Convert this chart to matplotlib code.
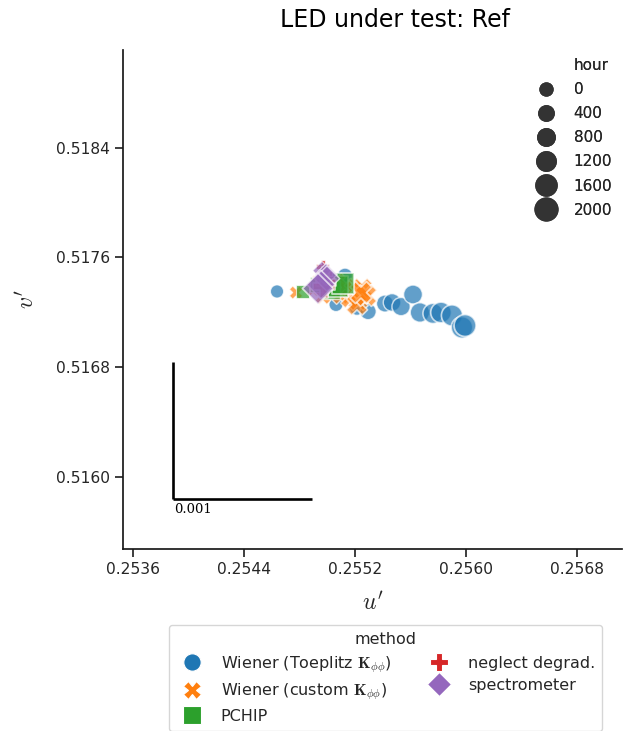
import matplotlib
matplotlib.use("Agg")
import matplotlib.pyplot as plt
from matplotlib.lines import Line2D
import numpy as np

plt.rcParams["mathtext.fontset"] = "cm"
plt.rcParams["font.family"] = ["DejaVu Sans"]

# chromaticity trajectories (u', v') over operating hours, per estimation method
toeplitz_hour = [0, 150, 300, 450, 600, 750, 900, 1050, 1200, 1350, 1500, 1650, 1800, 1900, 2000]
toeplitz_u = [0.254638, 0.255063, 0.255128, 0.255214, 0.255294, 0.255416, 0.255467, 0.255532,
              0.255618, 0.255668, 0.255762, 0.255820, 0.255899, 0.255971, 0.255993]
toeplitz_v = [0.517351, 0.517256, 0.517467, 0.517234, 0.517205, 0.517263, 0.517271, 0.517241,
              0.517329, 0.517198, 0.517191, 0.517198, 0.517176, 0.517089, 0.517103]

custom_hour = [0, 150, 300, 450, 600, 750, 900, 1050, 1200, 1350, 1500, 1650, 1800, 1900, 2000]
custom_u = [0.254775, 0.254897, 0.254933, 0.254969, 0.255027, 0.255070, 0.255099, 0.255135,
            0.255164, 0.255193, 0.255222, 0.255250, 0.255214, 0.255279, 0.255243]
custom_v = [0.517343, 0.517365, 0.517416, 0.517314, 0.517358, 0.517423, 0.517321, 0.517380,
            0.517300, 0.517358, 0.517285, 0.517372, 0.517256, 0.517321, 0.517343]

pchip_hour = [0, 500, 1000, 1500, 2000]
pchip_u = [0.254825, 0.254933, 0.255027, 0.255077, 0.255113]
pchip_v = [0.517351, 0.517401, 0.517365, 0.517387, 0.517409]

neglect_hour = [0, 500, 1000, 1500, 2000]
neglect_u = [0.254969, 0.254977, 0.254984, 0.254991, 0.254977]
neglect_v = [0.517532, 0.517481, 0.517445, 0.517416, 0.517387]

spectro_hour = [0, 500, 1000, 1500, 2000]
spectro_u = [0.254962, 0.254991, 0.254998, 0.254955, 0.254933]
spectro_v = [0.517503, 0.517474, 0.517445, 0.517401, 0.517372]

method_labels = [r"Wiener (Toeplitz $\mathbf{K}_{\phi\phi}$)",
                 r"Wiener (custom $\mathbf{K}_{\phi\phi}$)",
                 "PCHIP", "neglect degrad.", "spectrometer"]
method_colors = ["#1f77b4", "#ff7f0e", "#2ca02c", "#d62728", "#9467bd"]
method_markers = ["o", "X", "s", "P", "D"]

legend_hours = [0, 400, 800, 1200, 1600, 2000]
xticks = [0.2536, 0.2544, 0.2552, 0.2560, 0.2568]
yticks = [0.5160, 0.5168, 0.5176, 0.5184]

S_MIN, S_MAX, H_MAX = 88.0, 250.0, 2000.0


def size_of(h):
    return S_MIN + (S_MAX - S_MIN) * np.asarray(h, dtype=float) / H_MAX


W, H = 633, 731
fig = plt.figure(figsize=(W / 100, H / 100), dpi=100)
ax = fig.add_axes([123 / W, 1 - 549 / H, (622 - 123) / W, (549 - 50) / H])

series = [
    (toeplitz_u, toeplitz_v, toeplitz_hour),
    (custom_u, custom_v, custom_hour),
    (pchip_u, pchip_v, pchip_hour),
    (neglect_u, neglect_v, neglect_hour),
    (spectro_u, spectro_v, spectro_hour),
]
for (u, v, h), col, mk in zip(series, method_colors, method_markers):
    s = size_of(h)
    ax.scatter(u, v, s=s, marker=mk, color=col, alpha=0.7,
               edgecolors="w", linewidths=0.08 * np.sqrt(s), zorder=3)

ax.set_xlim(0.253528, 0.257124)
ax.set_ylim(0.515474, 0.519111)
ax.set_xticks(xticks)
ax.set_yticks(yticks)
ax.set_xticklabels([f"{t:.4f}" for t in xticks])
ax.set_yticklabels([f"{t:.4f}" for t in yticks])
ax.tick_params(direction="out", length=6, width=1.25, labelsize=11.2, colors="0.15")
for side in ("top", "right"):
    ax.spines[side].set_visible(False)
for side in ("left", "bottom"):
    ax.spines[side].set_linewidth(1.25)
    ax.spines[side].set_color("0.1")

ax.set_xlabel(r"$u'$", fontsize=17, color="0.15", labelpad=10)
ax.set_ylabel(r"$v'$", fontsize=17, color="0.15", labelpad=12)

# 0.001 scale bar
sb_u, sb_v, sb_len = 0.253888, 0.515838, 0.001
ax.plot([sb_u, sb_u], [sb_v, sb_v + sb_len], color="k", lw=1.9, solid_capstyle="butt")
ax.plot([sb_u, sb_u + sb_len], [sb_v, sb_v], color="k", lw=1.9, solid_capstyle="butt")
ax.annotate("0.001", xy=(sb_u, sb_v), xytext=(1, -3), textcoords="offset points",
            ha="left", va="top", family="DejaVu Serif", fontsize=9.5, color="k")

fig.text(395 / W, 1 - 20 / H, "LED under test: Ref", ha="center", va="center",
         fontsize=17, color="k")

# size legend (hour)
size_handles = [Line2D([], [], linestyle="", marker="")]
size_labels = ["hour"]
for h in legend_hours:
    size_handles.append(Line2D([], [], linestyle="", marker="o", color="0.2",
                               markeredgewidth=0,
                               markersize=1.1 * float(np.sqrt(size_of(h)))))
    size_labels.append(str(h))
leg_size = ax.legend(size_handles, size_labels, loc="upper left",
                     bbox_to_anchor=(517 / W, 1 - 44 / H), bbox_transform=fig.transFigure,
                     frameon=False, fontsize=11, labelcolor="0.15", labelspacing=0.6)
ax.add_artist(leg_size)

# method legend below the axes
m_handles = [Line2D([], [], linestyle="", marker=mk, color=col, markeredgecolor="w",
                    markeredgewidth=0.8, markersize=12.5)
             for col, mk in zip(method_colors, method_markers)]
leg_m = fig.legend(m_handles, method_labels, loc="upper center", ncol=2,
                   bbox_to_anchor=(385.5 / W, 1 - 625 / H), bbox_transform=fig.transFigure,
                   title="method", fontsize=11.5, title_fontsize=11.5,
                   labelspacing=0.42, borderpad=0.45, borderaxespad=0.0,
                   frameon=True, fancybox=True, edgecolor="0.8", labelcolor="0.15")
leg_m.get_title().set_color("0.15")

fig.savefig("out.png", dpi=100)
